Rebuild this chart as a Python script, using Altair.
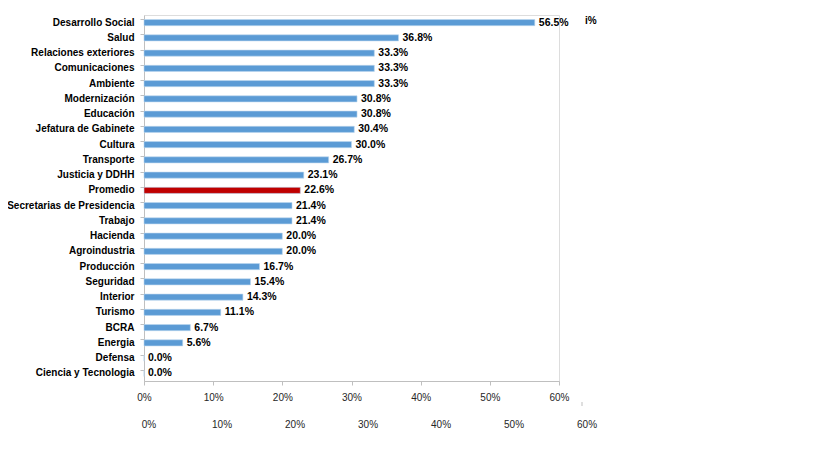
import altair as alt
import pandas as pd

categories = ["Desarrollo Social", "Salud", "Relaciones exteriores", "Comunicaciones",
              "Ambiente", "Modernización", "Educación", "Jefatura de Gabinete", "Cultura",
              "Transporte", "Justicia y DDHH", "Promedio", "Secretarias de Presidencia",
              "Trabajo", "Hacienda", "Agroindustria", "Producción", "Seguridad", "Interior",
              "Turismo", "BCRA", "Energia", "Defensa", "Ciencia y Tecnologia"]
values = [0.565, 0.368, 0.333, 0.333, 0.333, 0.308, 0.308, 0.304, 0.300, 0.267, 0.231,
          0.226, 0.214, 0.214, 0.200, 0.200, 0.167, 0.154, 0.143, 0.111, 0.067, 0.056,
          0.0, 0.0]
ticks2 = [0.0, 0.1, 0.2, 0.3, 0.4, 0.5, 0.6]

FONT = "Liberation Sans"

df = pd.DataFrame({"cat": categories, "val": values,
                   "kind": ["avg" if c == "Promedio" else "dep" for c in categories]})
df["label"] = [f"{v*100:.1f}%" for v in values]
tdf = pd.DataFrame({"t": ticks2, "lab": [f"{int(round(t*100))}%" for t in ticks2]})

W, H = 415, 366

y = alt.Y("cat:N", sort=categories, title=None,
          scale=alt.Scale(paddingInner=0.6, paddingOuter=0.3),
          axis=alt.Axis(labelFont=FONT, labelFontSize=10, labelFontWeight="bold",
                        labelColor="#000000", tickSize=4, labelPadding=6,
                        domainColor="#BFBFBF", tickColor="#BFBFBF", bandPosition=0,
                        labelLimit=200))
x = alt.X("val:Q", title=None,
          scale=alt.Scale(domain=[0, 0.6], nice=False),
          axis=alt.Axis(format="%", values=ticks2, labelFont=FONT, labelFontSize=10,
                        labelColor="#262626", tickSize=4, labelPadding=7,
                        labelFlush=False, labelOverlap=False,
                        domainColor="#BFBFBF", tickColor="#BFBFBF", grid=False))

bars = alt.Chart(df).mark_bar(stroke="#BDD7EE", strokeWidth=0.6).encode(
    y=y, x=x,
    color=alt.Color("kind:N", scale=alt.Scale(domain=["dep", "avg"],
                                              range=["#5B9BD5", "#C00000"]),
                    legend=None))
texts = alt.Chart(df).mark_text(align="left", baseline="middle", dx=4, font=FONT,
                                fontSize=10.5, fontWeight="bold", color="#000000").encode(
    y=alt.Y("cat:N", sort=categories), x=alt.X("val:Q"), text="label:N")

# second (offset) row of percentage labels beneath the axis
sec = alt.Chart(tdf).mark_text(align="center", baseline="middle", font=FONT,
                               fontSize=10, color="#262626").encode(
    x=alt.X("t:Q", scale=alt.Scale(domain=[-0.00685, 0.5616], nice=False, zero=False),
            axis=None),
    y=alt.value(H + 44), text="lab:N")

stray = alt.Chart(pd.DataFrame({"s": ["i%"]})).mark_text(
    align="left", baseline="middle", font=FONT, fontSize=10, fontWeight="bold",
    color="#000000").encode(x=alt.value(W + 26), y=alt.value(6), text="s:N")

stray_tick = alt.Chart(pd.DataFrame({"k": [1]})).mark_rule(
    color="#BFBFBF", strokeWidth=1).encode(
    x=alt.value(W + 23), y=alt.value(H + 21), y2=alt.value(H + 25))

chart = alt.layer(bars + texts, sec, stray, stray_tick).resolve_scale(
    x="independent").properties(
    width=W, height=H,
    padding={"left": 136, "top": 7, "right": 100, "bottom": 70},
    autosize=alt.AutoSizeParams(type="none"),
).configure_view(stroke=None).configure(background="white")

chart.save("out.html", embed_options={"renderer": "svg", "actions": False})
